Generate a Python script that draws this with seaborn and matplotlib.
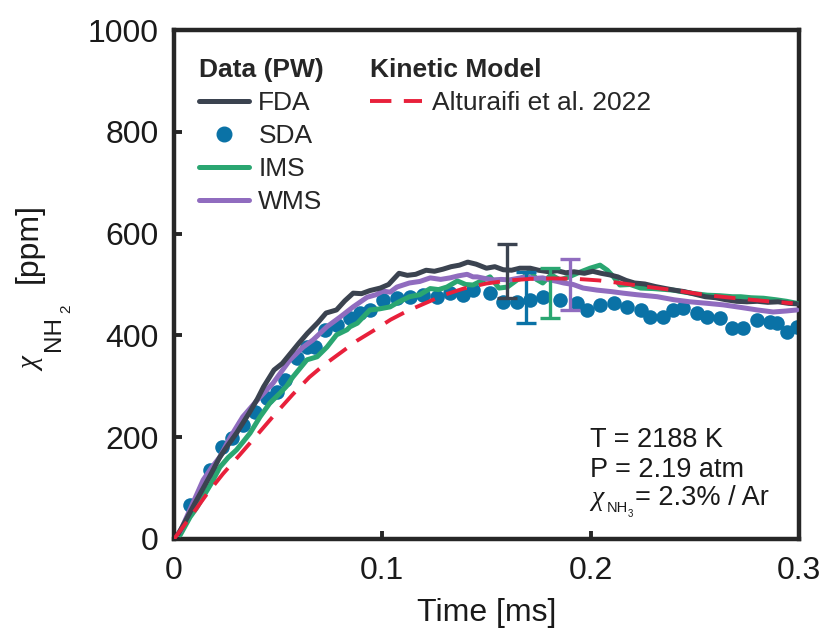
import numpy as np
import pandas as pd
import matplotlib
matplotlib.use("Agg")
import matplotlib.pyplot as plt
import seaborn as sns
from matplotlib.lines import Line2D

# ---------------- data ----------------
fda_t = [0.002, 0.004, 0.010, 0.017, 0.022, 0.026, 0.030, 0.036, 0.040, 0.043, 0.048, 0.052, 0.056,
         0.060, 0.064, 0.069, 0.073, 0.078, 0.082, 0.086, 0.090, 0.094, 0.099, 0.103, 0.108, 0.112,
         0.116, 0.121, 0.125, 0.129, 0.133, 0.137, 0.141, 0.145, 0.150, 0.154, 0.158, 0.162, 0.166,
         0.171, 0.175, 0.180, 0.184, 0.188, 0.192, 0.197, 0.201, 0.205, 0.209, 0.213, 0.217, 0.221,
         0.226, 0.231, 0.236, 0.240, 0.245, 0.250, 0.255, 0.260, 0.265, 0.270, 0.275, 0.280, 0.285,
         0.290, 0.295, 0.299]
fda_v = [10, 24, 70, 122, 161, 185, 208, 247, 275, 299, 332, 345, 365,
         385, 404, 425, 444, 450, 468, 483, 482, 488, 493, 500, 522, 518,
         520, 528, 526, 530, 535, 538, 544, 540, 532, 535, 529, 528, 532,
         532, 528, 525, 527, 523, 525, 522, 526, 522, 519, 515, 508, 503,
         501, 496, 492, 489, 486, 481, 476, 474, 470, 467, 466, 467, 465,
         466, 463, 462]

sda_t = [0.0077, 0.0173, 0.023, 0.028, 0.033, 0.039, 0.0446, 0.0494, 0.0533, 0.059, 0.0638, 0.0677,
         0.0725, 0.078, 0.0845, 0.0893, 0.094, 0.1003, 0.107, 0.1133, 0.1195, 0.126, 0.1325, 0.1387,
         0.1435, 0.1517, 0.158, 0.1647, 0.171, 0.177, 0.1853, 0.1935, 0.198, 0.2045, 0.211, 0.2175,
         0.224, 0.2285, 0.2348, 0.2396, 0.2444, 0.251, 0.256, 0.262, 0.268, 0.273, 0.280, 0.286,
         0.2895, 0.294, 0.299]
sda_v = [67, 136, 181, 198, 224, 250, 277, 289, 312, 356, 377, 377,
         410, 420, 434, 444, 450, 470, 473, 476, 479, 476, 483, 479,
         489, 483, 466, 466, 470, 476, 470, 463, 450, 460, 463, 456,
         450, 436, 436, 450, 454, 444, 436, 434, 415, 415, 430, 426,
         424, 407, 416]

ims_t = [0.003, 0.0077, 0.011, 0.014, 0.018, 0.022, 0.026, 0.030, 0.033, 0.0365, 0.0413, 0.046,
         0.051, 0.054, 0.057, 0.0638, 0.0687, 0.0734, 0.078, 0.083, 0.0845, 0.088, 0.094, 0.0985,
         0.1037, 0.108, 0.113, 0.118, 0.123, 0.127, 0.131, 0.136, 0.140, 0.1435, 0.148, 0.1517,
         0.156, 0.160, 0.1647, 0.168, 0.171, 0.174, 0.177, 0.181, 0.1853, 0.189, 0.1935, 0.1997,
         0.2045, 0.208, 0.211, 0.214, 0.219, 0.224, 0.230, 0.2396, 0.245, 0.250, 0.256, 0.262,
         0.268, 0.272, 0.277, 0.283, 0.289, 0.294, 0.299]
ims_v = [8, 43, 62, 83, 110, 141, 160, 175, 190, 208, 240, 267,
         287, 300, 318, 352, 358, 377, 401, 411, 417, 424, 450, 452,
         456, 466, 476, 480, 492, 490, 495, 507, 500, 499, 508, 515,
         493, 495, 509, 515, 528, 510, 503, 519, 509, 514, 522, 532,
         538, 528, 515, 499, 500, 493, 492, 489, 485, 482, 479, 478,
         476, 476, 474, 473, 470, 467, 463]

wms_t = [0.003, 0.009, 0.014, 0.018, 0.022, 0.027, 0.033, 0.040, 0.0475, 0.0557, 0.062, 0.0667,
         0.0734, 0.0797, 0.086, 0.0927, 0.097, 0.1003, 0.1037, 0.107, 0.113, 0.118, 0.123, 0.128,
         0.1325, 0.1365, 0.1407, 0.1435, 0.1455, 0.149, 0.153, 0.157, 0.161, 0.165, 0.169, 0.173,
         0.177, 0.1805, 0.184, 0.187, 0.1916, 0.1964, 0.203, 0.210, 0.2156, 0.222, 0.232, 0.240,
         0.2477, 0.256, 0.2636, 0.272, 0.280, 0.2876, 0.294, 0.299]
wms_v = [15, 70, 116, 140, 161, 200, 240, 273, 306, 352, 377, 391,
         417, 436, 456, 475, 480, 487, 485, 495, 503, 506, 513, 510,
         513, 517, 520, 515, 515, 512, 509, 510, 509, 512, 515, 512,
         513, 509, 506, 503, 500, 493, 489, 486, 483, 480, 476, 470,
         466, 463, 460, 455, 450, 446, 448, 450]

model_t = [0.0, 0.008, 0.0157, 0.0235, 0.0317, 0.040, 0.048, 0.057, 0.065, 0.072, 0.080, 0.088,
           0.096, 0.104, 0.112, 0.121, 0.130, 0.139, 0.150, 0.161, 0.171, 0.182, 0.1935, 0.204,
           0.214, 0.226, 0.2396, 0.256, 0.272, 0.285, 0.297]
model_v = [0, 44, 88, 128, 166, 205, 243, 284, 318, 342, 366, 390,
           410, 431, 448, 464, 480, 492, 502, 508, 511, 512, 511, 508,
           503, 496, 489, 479, 472, 467, 463]

err_t = [0.160, 0.1688, 0.1805, 0.190]
err_v = [526, 475, 483, 500]
err_e = [53, 50, 49, 50]

labels_data = ["FDA", "SDA", "IMS", "WMS"]
label_model = "Alturaifi et al. 2022"

# ---------------- style ----------------
sns.set_theme(style="ticks")
plt.rcParams["font.family"] = ["Liberation Sans", "DejaVu Sans"]

c_fda = "#3b4350"
c_sda = "#0a72a6"
c_ims = "#2aa671"
c_wms = "#906cbf"
c_red = "#e8203b"
c_axis = "#262626"
c_txt = "#1a1a1a"

W, H = 823, 630
fig = plt.figure(figsize=(W / 100, H / 100), dpi=100)
ax = fig.add_axes([174 / W, 91 / H, 625 / W, 509 / H])

lw = 3.6
sns.scatterplot(x=sda_t, y=sda_v, ax=ax, color=c_sda, s=110, linewidth=0, zorder=2)
sns.lineplot(x=ims_t, y=ims_v, ax=ax, color=c_ims, lw=lw, estimator=None, sort=False, zorder=3)
sns.lineplot(x=wms_t, y=wms_v, ax=ax, color=c_wms, lw=lw, estimator=None, sort=False, zorder=3)
sns.lineplot(x=fda_t, y=fda_v, ax=ax, color=c_fda, lw=lw, estimator=None, sort=False, zorder=4)
sns.lineplot(x=model_t, y=model_v, ax=ax, color=c_red, lw=2.8, estimator=None, sort=False, zorder=6)
ax.lines[-1].set_dashes((5.5, 3.2))

for xi, yi, ei, col in zip(err_t, err_v, err_e, [c_fda, c_sda, c_ims, c_wms]):
    ax.errorbar([xi], [yi], yerr=[ei], color=col, lw=2.4, capsize=7.5, capthick=2.4,
                fmt="none", zorder=5)

ax.set_xlim(0, 0.3)
ax.set_ylim(0, 1000)
ax.set_xticks([0, 0.1, 0.2, 0.3])
ax.set_xticklabels(["0", "0.1", "0.2", "0.3"])
ax.set_yticks([0, 200, 400, 600, 800, 1000])

for s in ax.spines.values():
    s.set_visible(True)
    s.set_linewidth(3.2)
    s.set_color(c_axis)
ax.tick_params(direction="in", length=6, width=2.8, color=c_axis,
               labelsize=23, labelcolor=c_txt, top=False, right=False)
ax.tick_params(axis="x", pad=12)
ax.tick_params(axis="y", pad=11)

ax.set_xlabel("Time [ms]", fontsize=23, color=c_txt, labelpad=9)
ax.set_ylabel("")


def ftxt(xp, yp, s, size, rot=0, **kw):
    """Place text with its baseline start at pixel (xp, yp) (image coordinates)."""
    fig.text(xp / W, 1 - yp / H, s, fontsize=size, rotation=rot, rotation_mode="anchor",
             ha="left", va="baseline", color=c_txt, **kw)


# y-axis label built from pieces: chi_{NH_2} [ppm]
serif_it = dict(family=["Liberation Serif", "DejaVu Serif"], style="italic")
ftxt(39, 371, "\u03c7", 21, rot=90, **serif_it)
ftxt(60, 351, "NH", 17.5, rot=90)
ftxt(70, 313, "2", 11, rot=90)
ftxt(37, 283, "[ppm]", 23, rot=90)

# legends
fs = 19
h1 = [Line2D([], [], color=c_fda, lw=lw),
      Line2D([], [], color=c_sda, lw=0, marker="o", markersize=10.5),
      Line2D([], [], color=c_ims, lw=lw),
      Line2D([], [], color=c_wms, lw=lw)]
leg1 = ax.legend(h1, labels_data, title="Data (PW)", loc="upper left",
                 bbox_to_anchor=(0.04, 0.945), frameon=False, fontsize=fs,
                 title_fontproperties={"weight": "bold", "size": fs},
                 handlelength=1.9, handletextpad=0.35, labelspacing=0.34,
                 borderpad=0, borderaxespad=0, alignment="left")
ax.add_artist(leg1)
h2 = [Line2D([], [], color=c_red, lw=2.8, dashes=(5.5, 3.2))]
leg2 = ax.legend(h2, [label_model], title="Kinetic Model", loc="upper left",
                 bbox_to_anchor=(0.313, 0.945), frameon=False, fontsize=fs,
                 title_fontproperties={"weight": "bold", "size": fs},
                 handlelength=2.0, handletextpad=0.35, labelspacing=0.34,
                 borderpad=0, borderaxespad=0, alignment="left")

# annotation
ftxt(590, 447, "T = 2188 K", 19.5)
ftxt(590, 477, "P = 2.19 atm", 19.5)
ftxt(591, 505, "\u03c7", 20, **serif_it)
ftxt(607, 512, "NH", 10.5)
ftxt(628, 517, "3", 7)
ftxt(635, 505, "= 2.3% / Ar", 19.5)

fig.savefig("out.png", dpi=100)
